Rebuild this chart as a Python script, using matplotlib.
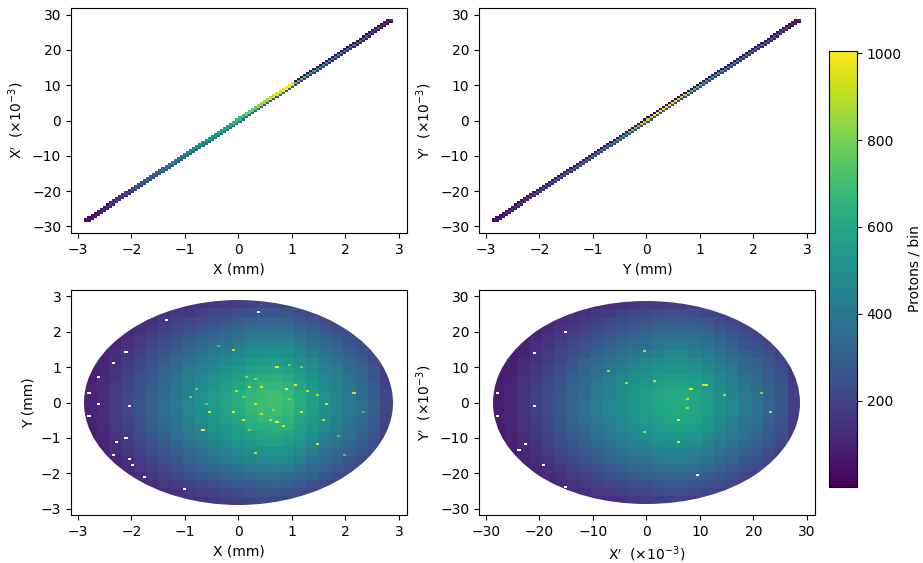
import numpy as np
import matplotlib
matplotlib.use("Agg")
import matplotlib.pyplot as plt
from matplotlib.colors import Normalize
from matplotlib.patches import Ellipse

# Top row: counts along the diagonal strip, one value per 4 fine bins
xxp_centre = [60, 120, 180, 240, 290, 330, 380, 420, 470, 520, 560, 620, 680,
              780, 870, 950, 1000, 700, 620, 560, 480, 420, 360, 280, 140]
xxp_lower = [40, 70, 100, 130, 170, 200, 230, 260, 290, 310, 330, 340, 330,
             320, 310, 300, 280, 180, 150, 130, 110, 90, 70, 50, 30]
xxp_upper = [30, 40, 90, 150, 240, 280, 340, 400, 450, 500, 540, 600, 660,
             760, 850, 930, 980, 20, 20, 20, 15, 15, 10, 10, 20]

yyp_centre = [60, 130, 180, 230, 280, 320, 370, 400, 450, 500, 600, 780, 900,
              1000, 980, 880, 720, 600, 540, 480, 420, 360, 310, 250, 120]
yyp_lower = [40, 60, 80, 100, 110, 130, 150, 170, 180, 200, 220, 230, 240,
             240, 230, 220, 200, 180, 170, 150, 130, 110, 100, 80, 40]
yyp_upper = [20, 25, 25, 25, 25, 25, 20, 20, 20, 20, 25, 25, 25,
             25, 25, 25, 25, 25, 25, 25, 25, 25, 25, 20, 20]

# Bottom row: counts read on a coarse grid (top row of the picture first)
xy_counts = [
    [60, 60, 60, 70, 80, 90, 110, 120, 140, 150, 170, 180, 190, 200, 210, 210, 200, 190, 170, 150, 140, 120, 110, 90, 60],
    [60, 60, 70, 80, 100, 120, 140, 160, 170, 190, 210, 220, 240, 250, 260, 270, 260, 240, 220, 190, 170, 160, 140, 110, 80],
    [60, 60, 80, 100, 120, 140, 170, 190, 210, 230, 250, 270, 290, 310, 320, 320, 310, 290, 260, 230, 210, 190, 170, 140, 100],
    [60, 70, 90, 110, 140, 160, 190, 220, 240, 270, 290, 310, 330, 360, 370, 370, 360, 330, 300, 270, 240, 220, 190, 160, 110],
    [60, 80, 100, 130, 160, 190, 220, 250, 280, 310, 330, 350, 380, 400, 410, 420, 410, 380, 340, 310, 280, 250, 220, 180, 130],
    [70, 90, 110, 140, 170, 210, 240, 270, 310, 340, 370, 400, 420, 450, 460, 470, 460, 420, 380, 340, 310, 270, 240, 200, 140],
    [70, 100, 130, 160, 190, 230, 270, 300, 340, 380, 410, 440, 470, 500, 510, 520, 500, 470, 420, 380, 340, 300, 270, 220, 160],
    [80, 100, 140, 170, 210, 250, 290, 330, 370, 410, 440, 470, 500, 540, 550, 560, 540, 500, 460, 410, 370, 330, 290, 240, 170],
    [90, 110, 150, 180, 220, 270, 310, 350, 400, 440, 470, 510, 540, 580, 590, 600, 580, 540, 490, 440, 400, 350, 310, 260, 180],
    [90, 120, 150, 190, 240, 280, 330, 370, 420, 460, 500, 540, 570, 610, 630, 640, 620, 570, 520, 460, 420, 370, 330, 270, 190],
    [100, 120, 160, 200, 250, 290, 340, 390, 440, 480, 520, 560, 600, 640, 660, 670, 650, 600, 540, 480, 440, 390, 340, 290, 200],
    [100, 130, 170, 210, 250, 300, 350, 400, 450, 500, 540, 580, 620, 660, 680, 690, 670, 620, 560, 500, 450, 400, 350, 290, 210],
    [100, 130, 170, 210, 260, 310, 360, 410, 460, 510, 550, 590, 630, 670, 690, 700, 680, 630, 570, 510, 460, 410, 360, 300, 210],
    [100, 130, 170, 210, 260, 310, 360, 410, 460, 500, 540, 580, 620, 660, 680, 690, 670, 620, 560, 500, 460, 410, 360, 300, 210],
    [100, 120, 160, 200, 250, 300, 350, 390, 440, 490, 530, 570, 600, 640, 660, 670, 650, 600, 550, 490, 440, 390, 350, 290, 200],
    [90, 120, 160, 190, 240, 290, 330, 380, 420, 470, 510, 540, 580, 620, 630, 640, 630, 580, 520, 470, 420, 380, 330, 280, 190],
    [90, 110, 150, 180, 230, 270, 310, 360, 400, 440, 480, 510, 550, 580, 600, 610, 590, 550, 500, 440, 400, 360, 310, 260, 180],
    [80, 110, 140, 170, 210, 250, 290, 330, 370, 410, 450, 480, 510, 540, 560, 570, 550, 510, 460, 410, 370, 330, 290, 240, 170],
    [70, 100, 130, 160, 190, 230, 270, 300, 340, 380, 410, 440, 470, 500, 510, 520, 500, 470, 420, 380, 340, 300, 270, 220, 160],
    [70, 90, 110, 140, 170, 210, 240, 270, 310, 340, 370, 400, 420, 450, 460, 470, 460, 420, 380, 340, 310, 270, 240, 200, 140],
    [60, 80, 100, 130, 160, 190, 220, 250, 280, 310, 330, 350, 380, 400, 410, 420, 410, 380, 340, 310, 280, 250, 220, 180, 130],
    [60, 70, 90, 110, 140, 160, 190, 210, 240, 270, 290, 310, 330, 350, 360, 360, 350, 330, 300, 270, 240, 210, 190, 160, 110],
    [60, 60, 80, 90, 110, 140, 160, 180, 200, 220, 240, 260, 280, 290, 300, 310, 300, 280, 250, 220, 200, 180, 160, 130, 90],
    [60, 60, 60, 80, 100, 110, 130, 150, 170, 190, 200, 220, 230, 250, 260, 260, 250, 230, 210, 190, 170, 150, 130, 110, 80],
    [60, 60, 60, 70, 80, 90, 110, 120, 140, 150, 170, 180, 190, 200, 210, 210, 200, 190, 170, 150, 140, 120, 110, 90, 60],
]

xpyp_counts = [
    [60, 60, 60, 70, 80, 90, 100, 110, 130, 140, 150, 170, 180, 180, 190, 190, 180, 170, 150, 140, 120, 110, 100, 80, 60],
    [60, 60, 60, 70, 90, 110, 130, 140, 160, 170, 190, 210, 220, 230, 240, 240, 230, 210, 190, 170, 160, 140, 120, 100, 70],
    [60, 60, 70, 90, 110, 130, 150, 170, 190, 210, 230, 250, 260, 280, 290, 290, 280, 260, 230, 210, 190, 170, 150, 120, 90],
    [60, 60, 80, 100, 120, 150, 170, 200, 220, 240, 270, 290, 300, 320, 330, 330, 320, 300, 270, 240, 220, 200, 170, 140, 100],
    [60, 70, 90, 110, 140, 170, 200, 220, 250, 280, 300, 320, 340, 360, 370, 370, 360, 340, 310, 280, 250, 220, 190, 160, 110],
    [60, 70, 100, 130, 150, 190, 220, 250, 280, 310, 340, 360, 380, 400, 420, 420, 400, 380, 340, 310, 270, 250, 210, 180, 130],
    [70, 80, 110, 140, 170, 210, 240, 270, 310, 340, 370, 400, 420, 440, 460, 460, 440, 410, 380, 340, 300, 270, 240, 200, 140],
    [70, 90, 120, 150, 180, 220, 260, 300, 340, 370, 400, 430, 460, 480, 500, 500, 480, 450, 410, 370, 330, 300, 260, 220, 150],
    [80, 90, 130, 160, 200, 240, 280, 320, 360, 400, 430, 460, 490, 520, 530, 530, 520, 480, 440, 400, 350, 320, 280, 230, 160],
    [80, 100, 140, 170, 210, 250, 300, 340, 380, 420, 460, 490, 520, 550, 560, 560, 550, 510, 460, 420, 370, 340, 290, 250, 170],
    [90, 100, 140, 180, 220, 270, 310, 350, 400, 440, 480, 510, 540, 570, 590, 590, 570, 530, 480, 440, 390, 350, 300, 260, 180],
    [90, 110, 150, 190, 230, 270, 320, 360, 410, 450, 490, 530, 560, 590, 610, 610, 590, 550, 500, 450, 400, 360, 310, 260, 190],
    [90, 110, 150, 190, 230, 280, 330, 370, 420, 460, 500, 540, 570, 600, 620, 620, 600, 560, 510, 460, 410, 370, 320, 270, 190],
    [90, 110, 150, 190, 230, 280, 330, 370, 420, 460, 500, 530, 560, 590, 610, 610, 590, 550, 500, 460, 410, 370, 320, 270, 190],
    [90, 110, 140, 180, 220, 270, 320, 360, 400, 440, 480, 520, 550, 580, 600, 600, 580, 540, 490, 440, 390, 360, 310, 260, 180],
    [80, 100, 140, 170, 210, 260, 300, 340, 390, 420, 460, 500, 520, 550, 570, 570, 550, 520, 470, 420, 380, 340, 290, 250, 170],
    [80, 100, 130, 170, 200, 240, 290, 320, 370, 400, 440, 470, 500, 520, 540, 540, 520, 490, 440, 400, 360, 320, 280, 230, 170],
    [70, 90, 120, 150, 190, 230, 270, 300, 340, 370, 410, 440, 460, 490, 500, 500, 490, 450, 410, 370, 330, 300, 260, 220, 150],
    [70, 80, 110, 140, 170, 210, 240, 280, 310, 340, 370, 400, 420, 440, 460, 460, 440, 410, 380, 340, 300, 280, 240, 200, 140],
    [60, 70, 100, 130, 150, 190, 220, 250, 280, 310, 340, 360, 380, 400, 420, 420, 400, 380, 340, 310, 270, 250, 210, 180, 130],
    [60, 70, 90, 110, 140, 170, 200, 220, 250, 280, 300, 320, 340, 360, 370, 370, 360, 340, 310, 280, 250, 220, 190, 160, 110],
    [60, 60, 80, 100, 120, 140, 170, 190, 220, 240, 260, 280, 300, 310, 320, 320, 310, 290, 260, 240, 210, 190, 170, 140, 100],
    [60, 60, 70, 90, 110, 130, 150, 170, 190, 210, 220, 240, 250, 270, 280, 280, 270, 250, 230, 210, 180, 170, 140, 120, 90],
    [60, 60, 60, 70, 90, 110, 130, 140, 160, 170, 190, 210, 220, 230, 240, 240, 230, 210, 190, 170, 160, 140, 120, 100, 70],
    [60, 60, 60, 70, 80, 90, 100, 110, 130, 140, 150, 170, 180, 180, 190, 190, 180, 170, 150, 140, 120, 110, 100, 80, 60],
]

# Single bright bins and empty bins that stand out from the coarse grid
xy_hot_x = [0.73, 0.88, 0.21, 0.42, 0.00, 1.09, 2.14, -0.08, 0.73, -0.68, 0.84, 1.47,
            1.16, 0.29, 1.66, 0.11, 1.59, -0.07, -0.56, 0.44, 0.61, 0.30, 1.28, 1.47,
            -0.78, -0.87, -0.58, 0.10, 0.97, 0.66, 0.16, 0.31, 0.22, 0.94, 1.16, 1.90,
            1.97, 2.34, -0.37]
xy_hot_y = [0.99, 0.40, 0.44, 0.44, 0.29, 0.49, 0.25, -0.24, -0.55, -0.79, -0.68, -1.16,
            -0.24, -0.05, -0.05, -0.49, -0.49, 1.47, -0.27, -0.32, -0.49, -1.41, 0.29, 0.18,
            0.37, 0.13, -0.01, 0.14, 0.07, -0.21, 0.72, 0.68, -0.76, 1.05, 0.99, -0.93,
            -1.47, -0.24, 1.61]
xy_hot_n = [990, 1000, 960, 960, 900, 960, 930, 950, 1000, 960, 950, 950,
            950, 930, 900, 950, 900, 900, 920, 900, 900, 880, 900, 880,
            760, 780, 780, 800, 800, 800, 820, 820, 800, 780, 780, 720,
            700, 680, 700]
xy_empty_x = [-2.64, -2.78, -2.64, -2.06, -2.78, -2.34, -2.09, -1.34, 0.36, -2.09, -2.28,
              -2.34, -2.03, -1.96, -1.78, -1.00]
xy_empty_y = [0.74, 0.26, -0.05, -0.11, -0.36, 1.13, 1.43, 2.36, 2.59, -0.98, -1.15,
              -1.46, -1.59, -1.77, -2.08, -2.47]

xpyp_hot_x = [6.3, 8.6, 11.2, 1.3, 6.3, -0.5, -0.5, 23.4, 7.5, -4.0, -7.3, 7.5, 14.8, 10.6, 21.5]
xpyp_hot_y = [-4.9, 3.7, 4.9, 5.9, -11.1, -8.6, 14.7, -2.5, 0.7, 5.5, 9.1, -1.7, 1.8, 4.6, 2.5]
xpyp_hot_n = [1000, 960, 960, 920, 930, 860, 880, 880, 880, 860, 850, 880, 860, 900, 850]
xpyp_empty_x = [-15.2, 9.3, -27.6, -20.7, -27.6, -20.7, -22.6, -23.8, -19.5, -15.2]
xpyp_empty_y = [19.7, -20.1, 2.5, -1.0, -3.6, 14.3, -11.5, -13.4, -17.7, -23.9]

POS_EXTENT = 2.88
ANGLE_EXTENT = 28.7
N_BINS = 100

plt.rcParams["font.size"] = 10
norm = Normalize(vmin=1, vmax=1005)


def draw_mesh(ax, H, xmax, ymax):
    xe = np.linspace(-xmax, xmax, N_BINS + 1)
    ye = np.linspace(-ymax, ymax, N_BINS + 1)
    return ax.pcolormesh(xe, ye, H, cmap="viridis", norm=norm, antialiased=False)


def strip_panel(ax, centre, lower, upper):
    H = np.full((N_BINS, N_BINS), np.nan)
    for offset, track in [(0, centre), (-1, lower), (1, upper)]:
        vals = np.repeat(track, 4)
        for i, v in enumerate(vals):
            row = i + offset
            if v > 0 and 0 <= row < N_BINS:
                H[row, i] = v
    return draw_mesh(ax, H, POS_EXTENT, ANGLE_EXTENT)


def blob_panel(ax, grid, xmax, ymax, hot_x, hot_y, hot_n, empty_x, empty_y):
    H = np.kron(np.flipud(np.array(grid, dtype=float)), np.ones((4, 4)))
    xe = np.linspace(-xmax, xmax, N_BINS + 1)
    ye = np.linspace(-ymax, ymax, N_BINS + 1)
    H[np.searchsorted(ye, hot_y) - 1, np.searchsorted(xe, hot_x) - 1] = hot_n
    H[np.searchsorted(ye, empty_y) - 1, np.searchsorted(xe, empty_x) - 1] = np.nan
    mesh = draw_mesh(ax, H, xmax, ymax)
    outline = Ellipse((0, 0), 2 * xmax, 2 * ymax, transform=ax.transData,
                      facecolor="none", edgecolor="none")
    ax.add_patch(outline)
    mesh.set_clip_path(outline)
    return mesh


def panel_axes(fig, left, top):
    return fig.add_axes([left / 923, 1 - (top + 225) / 563, 336 / 923, 225 / 563])


fig = plt.figure(figsize=(9.23, 5.63), dpi=100)
ax_xxp = panel_axes(fig, 71, 8)
ax_yyp = panel_axes(fig, 479, 8)
ax_xy = panel_axes(fig, 71, 290)
ax_xpyp = panel_axes(fig, 479, 290)

mesh = strip_panel(ax_xxp, xxp_centre, xxp_lower, xxp_upper)
strip_panel(ax_yyp, yyp_centre, yyp_lower, yyp_upper)
blob_panel(ax_xy, xy_counts, POS_EXTENT, POS_EXTENT,
           xy_hot_x, xy_hot_y, xy_hot_n, xy_empty_x, xy_empty_y)
blob_panel(ax_xpyp, xpyp_counts, ANGLE_EXTENT, ANGLE_EXTENT,
           xpyp_hot_x, xpyp_hot_y, xpyp_hot_n, xpyp_empty_x, xpyp_empty_y)

angle_label = r"$'$  ($\times 10^{-3}$)"
ax_xxp.set(xlim=(-3.13, 3.15), ylim=(-31.9, 31.9), xlabel="X (mm)", ylabel="X" + angle_label)
ax_yyp.set(xlim=(-3.13, 3.15), ylim=(-31.9, 31.9), xlabel="Y (mm)", ylabel="Y" + angle_label)
ax_xy.set(xlim=(-3.13, 3.15), ylim=(-3.17, 3.17), xlabel="X (mm)", ylabel="Y (mm)")
ax_xpyp.set(xlim=(-31.3, 31.5), ylim=(-31.7, 31.7), xlabel="X" + angle_label, ylabel="Y" + angle_label)

cax = fig.add_axes([829 / 923, 1 - 487 / 563, 28 / 923, 436 / 563])
cbar = fig.colorbar(mesh, cax=cax, ticks=[200, 400, 600, 800, 1000])
cbar.set_label("Protons / bin")

fig.savefig("out.png", dpi=100)
